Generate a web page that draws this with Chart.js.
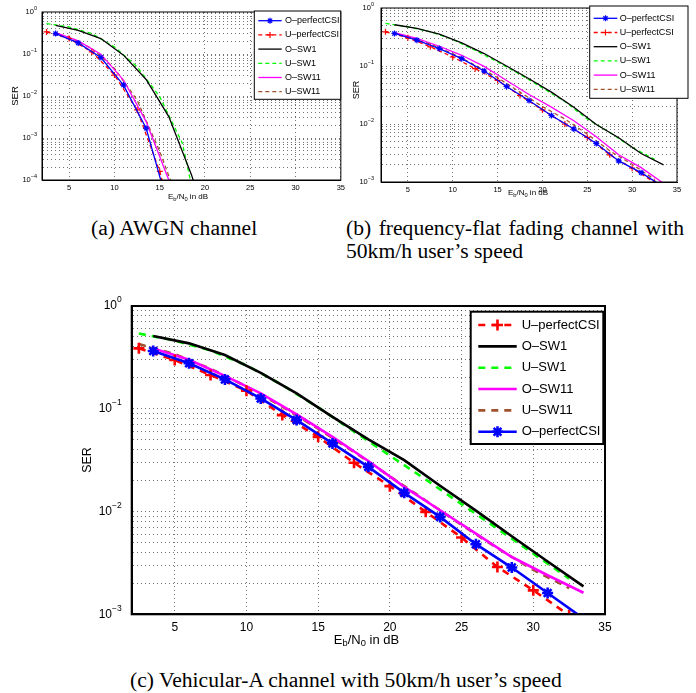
<!DOCTYPE html>
<html>
<head>
<meta charset="utf-8">
<script src="https://cdn.jsdelivr.net/npm/chart.js@4.4.0/dist/chart.umd.min.js"></script>
<style>
html, body { margin: 0; padding: 0; background: #fff; }
body { width: 696px; height: 693px; position: relative; overflow: hidden; }
canvas { position: absolute; }
.cap { position: absolute; font-family: 'Liberation Serif', 'Times New Roman', serif; font-size: 21.6px; line-height: 24px; color: #000; white-space: nowrap; }
</style>
</head>
<body>
<canvas id="chartA" width="348" height="205" style="left:0;top:0"></canvas>
<canvas id="chartB" width="348" height="205" style="left:348px;top:0"></canvas>
<canvas id="chartC" width="600" height="375" style="left:60px;top:285px"></canvas>
<div class="cap" style="left:91px;top:216px">(a) AWGN channel</div>
<div class="cap" style="left:346px;top:216px;width:338px;text-align:justify;text-align-last:justify">(b) frequency-flat fading channel with</div>
<div class="cap" style="left:346px;top:239px">50km/h user’s speed</div>
<div class="cap" style="left:130px;top:668px">(c) Vehicular-A channel with 50km/h user’s speed</div>
<script>
// Eb/N0 (dB) where each curve was sampled
const xO = [3.5, 6, 8.5, 11, 13.5, 16, 18.5, 21, 23.5, 26, 28.5, 31, 33.5];
const xU = [2.5, 5, 7.5, 10, 12.5, 15, 17.5, 20, 22.5, 25, 27.5, 30, 32.5];
const xTicks = [5, 10, 15, 20, 25, 30, 35];
const seriesNames = ['O-perfectCSI', 'U-perfectCSI', 'O-SW1', 'U-SW1', 'O-SW11', 'U-SW11'];

// (a) AWGN
const awgnOPerfect = [0.306, 0.184, 0.0826, 0.0182, 0.00171, 2.1e-5];
const awgnUPerfect = [0.336, 0.233, 0.112, 0.0315, 0.00466, 1.6e-4, 1.6e-6];
const awgnOSW1 = [0.483, 0.367, 0.233, 0.094, 0.0248, 0.00323, 1.34e-4, 3e-6];
const awgnUSW1 = [0.53, 0.44, 0.306, 0.148, 0.0496, 0.00964, 7.5e-4, 2.5e-6];
const awgnOSW11 = [0.323, 0.205, 0.099, 0.024, 0.00246, 1.0e-4, 1e-6];
const awgnUSW11 = [0.34, 0.255, 0.135, 0.0453, 0.008, 4.8e-4, 1.7e-5];

// (b) frequency-flat fading
const flatOPerfect = [0.364, 0.279, 0.2, 0.134, 0.0819, 0.0444, 0.0254, 0.014, 0.00818, 0.00462, 0.00231, 0.00145, 8.2e-4];
const flatUPerfect = [0.389, 0.306, 0.214, 0.143, 0.09, 0.0564, 0.031, 0.0175, 0.01, 0.00587, 0.00294, 0.00173, 9.8e-4];
const flatOSW1 = [0.514, 0.444, 0.354, 0.25, 0.164, 0.1, 0.0603, 0.0354, 0.0195, 0.0098, 0.0058, 0.0031, 0.00197];
const flatUSW1 = [0.542, 0.475, 0.389, 0.286, 0.187, 0.117, 0.0717, 0.042, 0.0244, 0.0122, 0.00717, 0.00394, 0.00247];
const flatOSW11 = [0.378, 0.298, 0.219, 0.153, 0.0987, 0.0564, 0.0323, 0.0195, 0.0114, 0.00603, 0.00294, 0.00177, 9.5e-4];
const flatUSW11 = [0.39, 0.318, 0.238, 0.164, 0.103, 0.0628, 0.0354, 0.02, 0.0122, 0.0067, 0.00345, 0.00202, 0.00111];

// (c) Vehicular-A
const vehOPerfect = [0.365, 0.277, 0.193, 0.126, 0.0776, 0.046, 0.0272, 0.0152, 0.00887, 0.00481, 0.00285, 0.00161, 9.1e-4];
const vehUPerfect = [0.387, 0.298, 0.213, 0.15, 0.0868, 0.0533, 0.0298, 0.01766, 0.00993, 0.00559, 0.00289, 0.00171, 9.8e-4];
const vehOSW1 = [0.51, 0.433, 0.333, 0.224, 0.141, 0.0835, 0.0503, 0.0316, 0.0178, 0.0102, 0.00575, 0.00326, 0.00187];
const vehUSW1 = [0.54, 0.46, 0.37, 0.265, 0.17, 0.103, 0.06, 0.035, 0.0205, 0.0118, 0.0068, 0.0039, 0.00222];
const vehOSW11 = [0.387, 0.3, 0.209, 0.141, 0.088, 0.0533, 0.031, 0.0174, 0.0103, 0.0061, 0.00361, 0.0024, 0.00162];
const vehUSW11 = [0.427, 0.34, 0.245, 0.165, 0.105, 0.064, 0.038, 0.022, 0.0128, 0.0074, 0.0044, 0.0027, 0.0018];

const seriesStyle = {
    'O-perfectCSI': { color: '#0000ff', dashed: false, marker: 'star' },
    'U-perfectCSI': { color: '#ff0000', dashed: true, marker: 'cross' },
    'O-SW1': { color: '#000000', dashed: false },
    'U-SW1': { color: '#00ff00', dashed: true },
    'O-SW11': { color: '#ff00ff', dashed: false },
    'U-SW11': { color: '#a0522d', dashed: true }
};
const SANS = "'Liberation Sans', Arial, Helvetica, sans-serif";

function drawMarker(ctx, style, x, y, r, w, color) {
    ctx.save();
    ctx.setLineDash([]);
    ctx.strokeStyle = color;
    ctx.lineWidth = w;
    ctx.beginPath();
    ctx.moveTo(x - r, y); ctx.lineTo(x + r, y);
    ctx.moveTo(x, y - r); ctx.lineTo(x, y + r);
    if (style === 'star') {
        const d = r * 0.707;
        ctx.moveTo(x - d, y - d); ctx.lineTo(x + d, y + d);
        ctx.moveTo(x - d, y + d); ctx.lineTo(x + d, y - d);
    }
    ctx.stroke();
    ctx.restore();
}

// box, log tick labels, axis titles and legend drawn MATLAB style
const matlabFrame = {
    id: 'matlabFrame',
    afterDraw(chart, args, g) {
        const { ctx, chartArea: a } = chart;
        const yScale = chart.scales.y;
        ctx.save();
        ctx.strokeStyle = '#000';
        ctx.lineWidth = g.fw;
        ctx.setLineDash([]);
        ctx.strokeRect(a.left, a.top, a.right - a.left, a.bottom - a.top);

        // y labels 10^n
        ctx.fillStyle = '#000';
        ctx.textBaseline = 'middle';
        for (let e = Math.round(Math.log10(g.ymin)); e <= 0; e++) {
            const py = yScale.getPixelForValue(Math.pow(10, e));
            const ex = String(e).replace('-', '\u2212');
            ctx.font = `${g.yExpFont}px ${SANS}`;
            const we = ctx.measureText(ex).width;
            ctx.font = `${g.yLabFont}px ${SANS}`;
            const wb = ctx.measureText('10').width;
            const xr = a.left - g.yLabPad;
            ctx.textAlign = 'left';
            ctx.fillText('10', xr - we - wb, py);
            ctx.font = `${g.yExpFont}px ${SANS}`;
            ctx.fillText(ex, xr - we, py - g.yLabFont * 0.5);
        }

        // SER
        ctx.save();
        ctx.translate(g.serX, g.serY);
        ctx.rotate(-Math.PI / 2);
        ctx.font = `${g.serFont}px ${SANS}`;
        ctx.textAlign = 'center';
        ctx.fillText('SER', 0, 0);
        ctx.restore();

        // Eb/N0 in dB with subscripts
        const parts = [['E', 0], ['b', 1], ['/N', 0], ['0', 1], [' in dB', 0]];
        const fs = g.xtFont, ss = g.xtFont * 0.72;
        let total = 0;
        parts.forEach(([t, sub]) => {
            ctx.font = `${sub ? ss : fs}px ${SANS}`;
            total += ctx.measureText(t).width;
        });
        let px = g.xtX - total / 2;
        ctx.textAlign = 'left';
        parts.forEach(([t, sub]) => {
            ctx.font = `${sub ? ss : fs}px ${SANS}`;
            ctx.fillText(t, px, g.xtY + (sub ? fs * 0.3 : 0));
            px += ctx.measureText(t).width;
        });

        // legend
        const L = g.legend;
        ctx.fillStyle = '#fff';
        ctx.fillRect(L.x1, L.y1, L.x2 - L.x1, L.y2 - L.y1);
        ctx.strokeStyle = '#000';
        ctx.lineWidth = g.fw;
        ctx.strokeRect(L.x1, L.y1, L.x2 - L.x1, L.y2 - L.y1);
        L.order.forEach((name, i) => {
            const ds = chart.data.datasets.find(d => d.label === name);
            const y = L.row0 + i * L.rowH;
            ctx.strokeStyle = ds.borderColor;
            ctx.lineWidth = ds.borderWidth;
            ctx.setLineDash(ds.borderDash);
            ctx.beginPath();
            ctx.moveTo(L.lx1, y);
            ctx.lineTo(L.lx2, y);
            ctx.stroke();
            ctx.setLineDash([]);
            if (ds.pointRadius > 0) {
                drawMarker(ctx, ds.pointStyle, (L.lx1 + L.lx2) / 2, y, ds.pointRadius, ds.pointBorderWidth, ds.borderColor);
            }
            ctx.fillStyle = '#000';
            ctx.font = `${L.font}px ${SANS}`;
            ctx.textAlign = 'left';
            ctx.textBaseline = 'middle';
            ctx.fillText(name.replace('-', '\u2013'), L.tx, y);
        });
        ctx.restore();
    }
};

function makeChart(id, series, g) {
    const datasets = seriesNames.map((name, k) => {
        const st = seriesStyle[name];
        const xs = name.startsWith('U') ? xU : xO;
        return {
            label: name,
            data: series[k].map((y, i) => ({ x: xs[i], y: y })),
            borderColor: st.color,
            backgroundColor: st.color,
            borderWidth: g.lw,
            borderDash: st.dashed ? g.dash : [],
            pointStyle: st.marker || 'circle',
            pointRadius: st.marker ? g.mr : 0,
            pointBorderWidth: g.mw,
            pointBorderColor: st.color,
            pointHoverRadius: 0,
            tension: 0,
            fill: false
        };
    });
    const gridOpts = { color: 'rgba(0,0,0,0.55)', drawTicks: false, lineWidth: 1 };
    const borderOpts = { color: '#000', width: g.fw, dash: [1, 3] };
    new Chart(document.getElementById(id), {
        type: 'line',
        data: { datasets },
        options: {
            responsive: false,
            animation: false,
            events: [],
            layout: { padding: { left: 0, top: g.top, right: g.W - g.right, bottom: 0 } },
            plugins: { legend: { display: false }, tooltip: { enabled: false }, matlabFrame: g },
            scales: {
                x: {
                    type: 'linear', min: 2, max: 35,
                    afterBuildTicks: s => { s.ticks = xTicks.map(v => ({ value: v })); },
                    afterFit: s => { s.height = g.H - g.bottom; },
                    ticks: { color: '#000', font: { size: g.tickFont, family: SANS }, padding: g.xPad, maxRotation: 0, autoSkip: false },
                    grid: gridOpts,
                    border: borderOpts
                },
                y: {
                    type: 'logarithmic', min: g.ymin, max: 1,
                    afterBuildTicks: s => {
                        const t = [];
                        for (let e = Math.round(Math.log10(g.ymin)); e < 0; e++) {
                            for (let m = 1; m < 10; m++) t.push({ value: m * Math.pow(10, e) });
                        }
                        t.push({ value: 1 });
                        s.ticks = t;
                    },
                    afterFit: s => { s.width = g.left; },
                    ticks: { display: false, autoSkip: false },
                    grid: gridOpts,
                    border: borderOpts
                }
            }
        },
        plugins: [matlabFrame]
    });
}

const orderAB = ['O-perfectCSI', 'U-perfectCSI', 'O-SW1', 'U-SW1', 'O-SW11', 'U-SW11'];
const orderC = ['U-perfectCSI', 'O-SW1', 'U-SW1', 'O-SW11', 'U-SW11', 'O-perfectCSI'];

makeChart('chartA', [awgnOPerfect, awgnUPerfect, awgnOSW1, awgnUSW1, awgnOSW11, awgnUSW11], {
    W: 348, H: 205, left: 42, top: 12, right: 341, bottom: 180, ymin: 1e-4,
    lw: 1.3, dash: [4, 3], mr: 3, mw: 1.2, fw: 1,
    tickFont: 7.5, xPad: 3, yLabFont: 7.5, yExpFont: 5.5, yLabPad: 5,
    serX: 15, serY: 96, serFont: 9.5, xtX: 188, xtY: 197, xtFont: 8,
    legend: { x1: 254.3, y1: 11, x2: 340.7, y2: 99.3, row0: 20.7, rowH: 14.2, lx1: 258.3, lx2: 281.7, tx: 285, font: 9, order: orderAB }
});

makeChart('chartB', [flatOPerfect, flatUPerfect, flatOSW1, flatUSW1, flatOSW11, flatUSW11], {
    W: 348, H: 205, left: 33, top: 8, right: 329, bottom: 182, ymin: 1e-3,
    lw: 1.3, dash: [4, 3], mr: 3, mw: 1.2, fw: 1,
    tickFont: 7.5, xPad: 3, yLabFont: 7.5, yExpFont: 5.5, yLabPad: 7,
    serX: 8.5, serY: 90, serFont: 9, xtX: 180, xtY: 193, xtFont: 8,
    legend: { x1: 241.7, y1: 6, x2: 340, y2: 98.3, row0: 18.3, rowH: 14.2, lx1: 245.7, lx2: 269.3, tx: 271.7, font: 9, order: orderAB }
});

makeChart('chartC', [vehOPerfect, vehUPerfect, vehOSW1, vehUSW1, vehOSW11, vehUSW11], {
    W: 600, H: 375, left: 71.7, top: 21, right: 545, bottom: 329.3, ymin: 1e-3,
    lw: 2.6, dash: [7, 6], mr: 5.5, mw: 2.6, fw: 2,
    tickFont: 12, xPad: 6, yLabFont: 12, yExpFont: 8.5, yLabPad: 10,
    serX: 28, serY: 175, serFont: 12.5, xtX: 306.5, xtY: 355, xtFont: 13,
    legend: { x1: 410.7, y1: 26.7, x2: 543.3, y2: 159, row0: 40, rowH: 21.35, lx1: 418.3, lx2: 456.7, tx: 461.7, font: 13, order: orderC }
});
</script>
</body>
</html>
